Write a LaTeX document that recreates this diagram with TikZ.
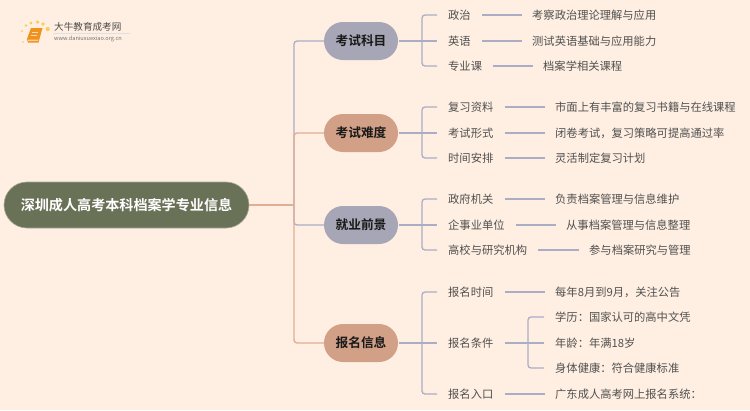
\documentclass[tikz,border=0pt]{standalone}
\usepackage{fontspec}
\setmainfont{Noto Sans CJK SC}[BoldFont={Noto Sans CJK SC Bold}]
\usetikzlibrary{calc}
\definecolor{bg}{HTML}{FFEFE2}
\definecolor{rootc}{HTML}{697157}
\definecolor{bluec}{HTML}{A7A6B6}
\definecolor{peach}{HTML}{D1A087}
\definecolor{lineb}{HTML}{ABADC5}
\definecolor{linep}{HTML}{E0AE94}
\definecolor{txt}{HTML}{505050}
\definecolor{dot}{HTML}{FBCB5C}
\definecolor{bookc}{HTML}{F0921E}
\tikzset{
 x=1pt,y=-1pt,
 root/.style={rounded corners=23pt,fill=rootc,draw=rootc!60!white,line width=.6pt,minimum width=245pt,minimum height=46pt,inner sep=0pt,text=white,font=\fontsize{14.1}{16}\selectfont\bfseries},
 branch/.style={rounded corners=19pt,minimum width=74pt,minimum height=38pt,inner sep=0pt,text=black!90,font=\fontsize{12.7}{15}\selectfont\bfseries},
 bluen/.style={branch,fill=bluec},
 peachn/.style={branch,fill=peach},
 leaf/.style={anchor=west,inner sep=0pt,text=txt,font=\fontsize{11.28}{14}\selectfont},
 bl/.style={draw=lineb,line width=1.3pt,rounded corners=3pt},
 pl/.style={draw=linep,line width=1.4pt,rounded corners=3pt},
}
\begin{document}
\begin{tikzpicture}
\fill[bg] (0,0) rectangle (750,410);
\useasboundingbox (0,0) rectangle (750,410);
% logo
\foreach \a/\b/\r in {23/42/.8,22/31/1,26/25.5/1.3,31/23/1.6,37.7/22/1.8,43/24/1.8,47.7/29/2.1}
  \fill[dot] (\a,\b) circle (\r);
\fill[bookc] (27,39) -- (31,28) -- (42.5,28) -- (38.5,42.5) -- (28,42.5) -- cycle;
\draw[white!70!orange,line width=.6] (32,32) -- (38,32) (31,35) -- (37,35);
\fill[white!60!orange] (28,39.5) -- (38.5,39.5) -- (38,41) -- (28,41) -- cycle;
\node[anchor=west,inner sep=0pt,text=black!70,font=\fontsize{9.6}{11}\selectfont] (logot) at (54,27) {大牛教育成考网};
\node[anchor=west,inner sep=0pt,text=black!55,font=\fontsize{5.6}{7}\selectfont] (logou) at (54,38.5) {www.daniuxuexiao.org.cn};
\fill[black!12] (53,33) rectangle (130,33.6);
% nodes
\node[root] (r) at (126.5,205) {深圳成人高考本科档案学专业信息};
\node[bluen]  (b1) at (361,41)  {考试科目};
\node[peachn] (b2) at (361,133) {考试难度};
\node[bluen]  (b3) at (361,225) {就业前景};
\node[peachn] (b4) at (361,343) {报名信息};
\foreach \n/\t/\y in {a1/政治/15,a2/英语/41,a3/专业课/66,c1/复习资料/107,c2/考试形式/133,c3/时间安排/158,d1/政府机关/199,d2/企事业单位/225,d3/高校与研究机构/250,e1/报名时间/292,e2/报名条件/343,e3/报名入口/394}
  \node[leaf] (\n) at (448,\y) {\t};
\foreach \n/\t/\x/\y in {x1/考察政治理论理解与应用/532/15,x2/测试英语基础与应用能力/532/41,x3/档案学相关课程/543/66,
 y1/市面上有丰富的复习书籍与在线课程/555/107,y2/闭卷考试，复习策略可提高通过率/555/133,y3/灵活制定复习计划/555/158,
 z1/负责档案管理与信息维护/555/199,z2/从事档案管理与信息整理/566/225,z3/参与档案研究与管理/589/250,
 w1/每年8月到9月，关注公告/555/292,w3/广东成人高考网上报名系统：/555/394,
 v1/学历：国家认可的高中文凭/555/317,v2/年龄：年满18岁/555/343,v3/身体健康：符合健康标准/555/368}
  \node[leaf] (\n) at (\x,\y) {\t};
% root to branches
\coordinate (t) at (294,205);
\draw[bl] (t) -- (294,41) -- (b1.west);
\draw[bl] (t) -- (294,225) -- (b3.west);
\draw[pl] (r.east) -- (t);
\draw[pl] (t) -- (294,133) -- (b2.west);
\draw[pl] (t) -- (294,343) -- (b4.west);
% brackets
\foreach \b/\p/\q/\m/\yp/\yq/\ym in {b1/a1/a3/a2/15/66/41,b2/c1/c3/c2/107/158/133,b3/d1/d3/d2/199/250/225,b4/e1/e3/e2/292/394/343}{
  \draw[bl] ($(\b.east)+(1,0)$) -- ($(\m.west)+(-11,0)$);
  \draw[bl] (437,\yp) -- (422,\yp) -- (422,\yq) -- (437,\yq);
}
% leaders
\foreach \s/\e in {a1/x1,a2/x2,a3/x3,c1/y1,c2/y2,c3/y3,d1/z1,d2/z2,d3/z3,e1/w1,e3/w3}
  \draw[bl] ($(\s.east)+(11,0)$) -- ($(\e.west)+(-10.5,0)$);
% sub-bracket
\draw[bl] ($(e2.east)+(11,0)$) -- ($(v2.west)+(-11,0)$);
\draw[bl] (544,317) -- (528,317) -- (528,368) -- (544,368);
\end{tikzpicture}
\end{document}
